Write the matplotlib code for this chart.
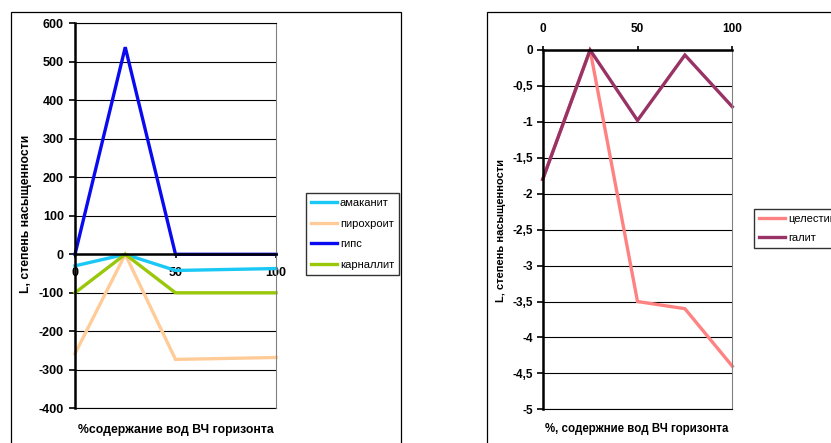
import matplotlib
matplotlib.use("Agg")
import matplotlib.pyplot as plt
from matplotlib.patches import Rectangle
from matplotlib.ticker import FuncFormatter, MultipleLocator

plt.rcParams['font.family'] = ['Liberation Sans', 'DejaVu Sans']
plt.rcParams['axes.unicode_minus'] = False

# Left chart: saturation indices of four minerals
x_left = [0, 25, 50, 100]
amakanit = [-30, 0, -42, -37]
pyrochroite = [-258, 0, -273, -268]
gypsum = [0, 538, 0, 0]
carnallite = [-100, 0, -100, -100]
left_names = ['амаканит', 'пирохроит', 'гипс', 'карналлит']
left_colors = ['#19C8F5', '#FFCC99', '#0A0AF0', '#99C80A']

# Right chart: celestine and halite
x_right = [0, 25, 50, 75, 100]
celestine = [-1.8, 0, -3.5, -3.6, -4.4]
galit = [-1.8, 0, -0.98, -0.07, -0.79]
right_names = ['целестин', 'галит']
right_colors = ['#FF8282', '#993366']

x_ticks = [0, 50, 100]

fig = plt.figure(figsize=(8.31, 4.43), dpi=100)

# outer chart frames
fig.patches.append(Rectangle((11 / 831, -0.05), 390 / 831, 1.05 - 12 / 443,
                             transform=fig.transFigure, fill=False,
                             edgecolor='black', linewidth=0.9))
fig.patches.append(Rectangle((487 / 831, -0.05), 400 / 831, 1.05 - 12 / 443,
                             transform=fig.transFigure, fill=False,
                             edgecolor='black', linewidth=0.9))

legend_kw = dict(loc='upper left', bbox_transform=fig.transFigure,
                 frameon=True, fancybox=False, edgecolor='black',
                 fontsize=8, handlelength=2.3, handletextpad=0.3,
                 borderpad=0.45, borderaxespad=0)

# ---- left chart ----
ax1 = fig.add_axes([75 / 831, 1 - 408.3 / 443, 201 / 831, 385 / 443])
for vals, name, col in zip([amakanit, pyrochroite, gypsum, carnallite],
                           left_names, left_colors):
    ax1.plot(x_left, vals, color=col, linewidth=2.4, label=name,
             solid_joinstyle='miter', clip_on=False)
ax1.set_xlim(0, 100)
ax1.set_ylim(-400, 600)
ax1.yaxis.set_major_locator(MultipleLocator(100))
ax1.set_xticks(x_ticks)
ax1.grid(axis='y', color='black', linewidth=0.8)
ax1.axhline(-400, color='black', linewidth=0.8, clip_on=False, zorder=0.5)
ax1.set_axisbelow(True)
ax1.spines['bottom'].set_position(('data', 0))
ax1.spines['bottom'].set_linewidth(1.8)
ax1.spines['left'].set_linewidth(1.8)
ax1.spines['top'].set_linewidth(0.8)
ax1.spines['right'].set_color('#808080')
ax1.spines['right'].set_linewidth(0.8)
ax1.tick_params(axis='y', length=4, width=1.2, pad=4)
ax1.tick_params(axis='x', length=3, width=1.2, pad=6)
for lbl in ax1.get_xticklabels() + ax1.get_yticklabels():
    lbl.set_fontsize(9)
    lbl.set_fontweight('bold')
ax1.legend(bbox_to_anchor=(306 / 831, 1 - 193 / 443), labelspacing=0.95,
           **legend_kw)
fig.text(26 / 831, 1 - 214 / 443, 'L, степень насыщенности', rotation=90,
         ha='center', va='center', fontsize=8.8, fontweight='bold')
fig.text(175.5 / 831, 1 - 430 / 443, '%содержание вод ВЧ горизонта',
         ha='center', va='center', fontsize=8.8, fontweight='bold')

# ---- right chart ----
ax2 = fig.add_axes([542.7 / 831, 1 - 409.3 / 443, 189.6 / 831, 359.3 / 443])
for vals, name, col in zip([celestine, galit], right_names, right_colors):
    ax2.plot(x_right, vals, color=col, linewidth=2.4, label=name,
             solid_joinstyle='miter', clip_on=False)
ax2.set_xlim(0, 100)
ax2.set_ylim(-5, 0)
ax2.yaxis.set_major_locator(MultipleLocator(0.5))
ax2.yaxis.set_major_formatter(FuncFormatter(
    lambda v, p: ('%g' % v).replace('.', ',')))
ax2.set_xticks(x_ticks)
ax2.xaxis.tick_top()
ax2.grid(axis='y', color='black', linewidth=0.8)
ax2.set_axisbelow(True)
ax2.spines['top'].set_linewidth(1.8)
ax2.spines['left'].set_linewidth(1.8)
ax2.spines['bottom'].set_linewidth(0.8)
ax2.spines['right'].set_color('#808080')
ax2.spines['right'].set_linewidth(0.8)
ax2.tick_params(axis='y', length=4, width=1.2, pad=3)
ax2.tick_params(axis='x', length=3, width=1.2, pad=8)
for lbl in ax2.get_xticklabels() + ax2.get_yticklabels():
    lbl.set_fontsize(8.5)
    lbl.set_fontweight('bold')
ax2.legend(bbox_to_anchor=(754 / 831, 1 - 209 / 443), labelspacing=0.8,
           **legend_kw)
fig.text(501 / 831, 1 - 231 / 443, 'L, степень насыщенности', rotation=90,
         ha='center', va='center', fontsize=8.0, fontweight='bold')
fig.text(637 / 831, 1 - 429 / 443, '%, содержние вод ВЧ горизонта',
         ha='center', va='center', fontsize=8.3, fontweight='bold')

fig.savefig('out.png', dpi=100)
